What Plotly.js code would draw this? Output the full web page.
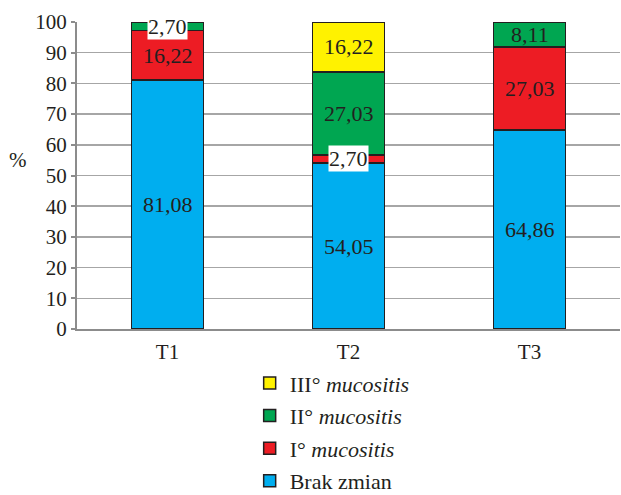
<!DOCTYPE html>
<html>
<head>
<meta charset="utf-8">
<script src="https://cdn.plot.ly/plotly-3.0.1.min.js"></script>
<style>html,body{margin:0;padding:0;background:#fff;}#chart{width:621px;height:495px;}</style>
</head>
<body>
<div id="chart"></div>
<script>
const categories = ["T1", "T2", "T3"];
const seriesNames = ["Brak zmian", "I° <i>mucositis</i>", "II° <i>mucositis</i>", "III° <i>mucositis</i>"];
const brakZmian = [81.08, 54.05, 64.86];
const mucositisI = [16.22, 2.70, 27.03];
const mucositisII = [2.70, 27.03, 8.11];
const mucositisIII = [0, 16.22, 0];
const colors = ["#00AEEF", "#ED1C24", "#00A651", "#FFF200"];

const series = [brakZmian, mucositisI, mucositisII, mucositisIII];
const FONT = "Liberation Serif, DejaVu Serif, serif";

const traces = series.map((vals, i) => ({
  type: "bar",
  x: categories,
  y: vals,
  name: seriesNames[i],
  legendgroup: "g" + i,
  legendrank: 10 - i,
  marker: {color: colors[i], line: {color: "#231F20", width: 1.5}},
  hoverinfo: "skip"
}));

const annotations = [];
categories.forEach((c, ci) => {
  let base = 0;
  series.forEach((vals) => {
    const v = vals[ci];
    if (v > 0) {
      const small = v < 5;
      annotations.push({
        x: c, y: base + v / 2, xref: "x", yref: "y",
        text: v.toFixed(2).replace(".", ","),
        showarrow: false,
        font: {family: FONT, size: 22, color: "#231F20"},
        bgcolor: small ? "#ffffff" : "rgba(0,0,0,0)",
        borderpad: 0
      });
    }
    base += v;
  });
});
annotations.push({
  x: -0.109, y: 0.55, xref: "paper", yref: "paper",
  xanchor: "center", yanchor: "middle",
  text: "%", showarrow: false,
  font: {family: FONT, size: 21, color: "#231F20"}
});

const layout = {
  width: 621, height: 495,
  margin: {l: 77, r: 1, t: 22, b: 166, autoexpand: false},
  paper_bgcolor: "#fff", plot_bgcolor: "#fff",
  barmode: "stack",
  bargap: 0.6,
  separators: ",.",
  font: {family: FONT, size: 21, color: "#231F20"},
  xaxis: {
    type: "category",
    showline: true, linecolor: "#8c8c8c", linewidth: 2,
    ticks: "", showgrid: false,
    ticklabelstandoff: 3,
    tickfont: {family: FONT, size: 21, color: "#231F20"}
  },
  yaxis: {
    range: [0, 100], dtick: 10,
    showline: true, linecolor: "#8c8c8c", linewidth: 2,
    ticks: "outside", ticklen: 4, tickcolor: "#8c8c8c", tickwidth: 2,
    gridcolor: "#a6a6a6", gridwidth: 1.5,
    zeroline: false,
    tickfont: {family: FONT, size: 21, color: "#231F20"}
  },
  showlegend: true,
  legend: {
    x: 0.318, y: -0.108, xanchor: "left", yanchor: "top",
    traceorder: "grouped",
    tracegroupgap: 1,
    font: {family: FONT, size: 22, color: "#231F20"},
    bgcolor: "rgba(0,0,0,0)"
  },
  annotations: annotations
};

Plotly.newPlot("chart", traces, layout, {displayModeBar: false, staticPlot: true});
</script>
</body>
</html>
